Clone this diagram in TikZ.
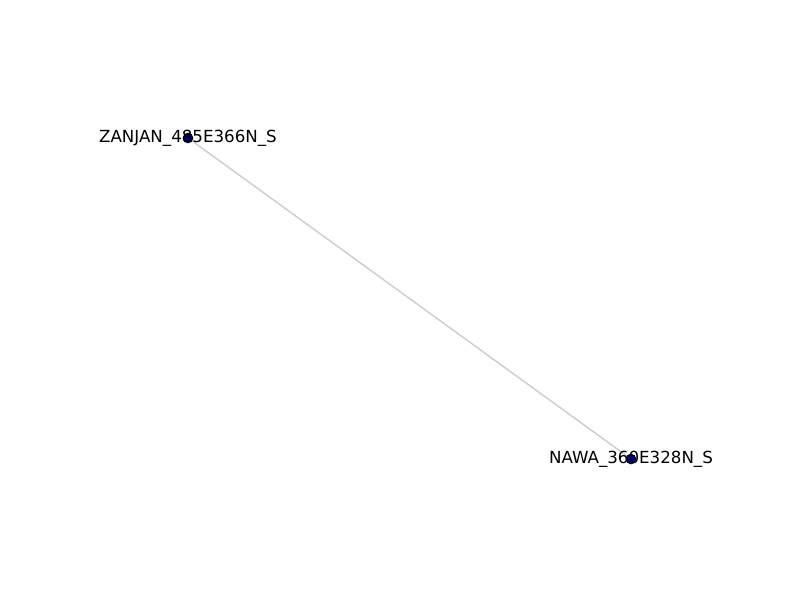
\documentclass[tikz,border=0pt]{standalone}
\usepackage{fontspec}
\setmainfont{DejaVu Sans}
\definecolor{navynode}{HTML}{000080}
\definecolor{edgegray}{HTML}{CCCCCC}
\begin{document}
\begin{tikzpicture}[x=0.72pt,y=-0.72pt,
  dot/.style={circle,fill=navynode,draw=black,line width=0.6pt,inner sep=0pt,minimum size=7pt},
  lbl/.style={font=\fontsize{12pt}{14pt}\selectfont,inner sep=0pt,text=black},
  edge/.style={draw=edgegray,line width=1pt}]
\useasboundingbox (0,0) rectangle (800,600);
\fill[white] (0,0) rectangle (800,600);
\coordinate (a) at (188,138);
\coordinate (b) at (631,459);
\draw[edge] (a) -- (b);
\node[dot] (na) at (a) {};
\node[dot] (nb) at (b) {};
\node[lbl] (la) at (a) {ZANJAN\_485E366N\_S};
\node[lbl] (lb) at (b) {NAWA\_360E328N\_S};
\end{tikzpicture}
\end{document}
